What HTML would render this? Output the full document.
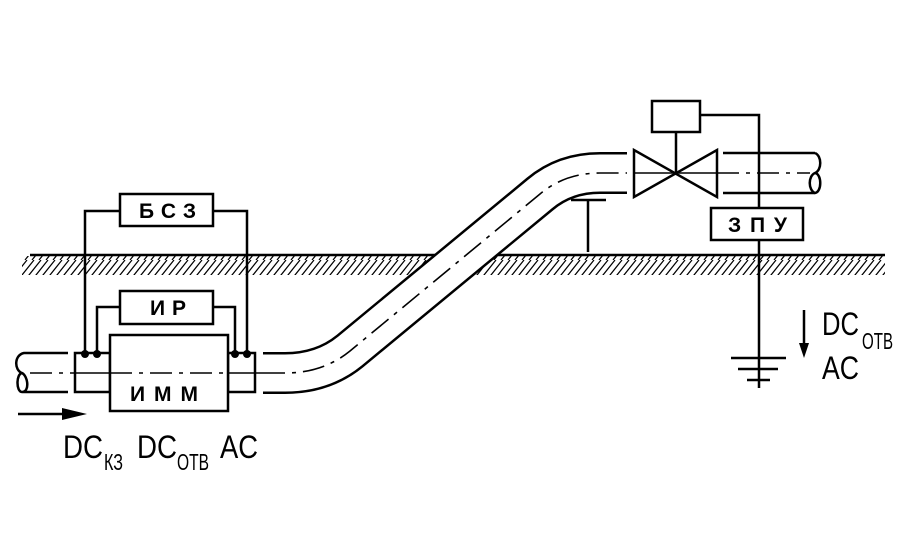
<!DOCTYPE html>
<html><head><meta charset="utf-8"><style>
html,body{margin:0;padding:0;background:#fff}
svg{display:block}
.lb{font-family:"Liberation Sans",sans-serif;font-weight:bold;font-size:21px}
.dc{font-family:"Liberation Sans",sans-serif;font-size:32px}
.sub{font-family:"Liberation Sans",sans-serif;font-size:23px}
</style></head><body>
<svg width="918" height="550" viewBox="0 0 918 550" xmlns="http://www.w3.org/2000/svg">
<defs>
<pattern id="h" width="7" height="20" patternUnits="userSpaceOnUse">
<line x1="-3" y1="20" x2="13" y2="0" stroke="#000" stroke-width="1.2"/>
<line x1="4" y1="20" x2="20" y2="0" stroke="#000" stroke-width="1.2"/>
<line x1="-10" y1="20" x2="6" y2="0" stroke="#000" stroke-width="1.2"/>
</pattern>
</defs>
<g fill="none" stroke="#000" stroke-width="2.5">
<rect x="22" y="256" width="863" height="19" fill="url(#h)" stroke="none"/>
<line x1="30" y1="255" x2="885" y2="255"/>
<path d="M263 373 L285 373 Q323 373 350 351 L540 194 Q565 173 600 173 L627 173" stroke="#000" stroke-width="42"/>
<path d="M261 373 L285 373 Q323 373 350 351 L540 194 Q565 173 600 173 L629 173" stroke="#fff" stroke-width="37"/>
<path d="M263 373 L285 373 Q323 373 350 351 L540 194 Q565 173 600 173 L627 173" stroke-width="1.6" stroke-dasharray="22 7 4 7"/>
<path d="M68 353 L24 353 C14 355 14 370 22 373 C28 376 30 392 22 392 C16 392 16 374 22 373 M22 392 L68 392"/>
<line x1="30" y1="373" x2="75" y2="373" stroke-width="1.6" stroke-dasharray="22 7 4 7"/>
<rect x="75" y="353" width="35" height="39"/>
<rect x="228" y="353" width="27" height="39"/>
<line x1="75" y1="373" x2="110" y2="373" stroke-width="1.6"/>
<line x1="228" y1="373" x2="263" y2="373" stroke-width="1.6"/>
<rect x="110" y="335" width="118" height="76" fill="#fff"/>
<line x1="110" y1="373" x2="228" y2="373" stroke-width="1.6" stroke-dasharray="22 7 4 7"/>
<rect x="120" y="194" width="93" height="32"/>
<polyline points="120,211 85,211 85,354"/>
<polyline points="213,211 247,211 247,354"/>
<rect x="120" y="291" width="93" height="33"/>
<polyline points="120,307 97,307 97,354"/>
<polyline points="213,307 235,307 235,354"/>
<line x1="18" y1="414" x2="75" y2="414"/>
<line x1="723" y1="153" x2="815" y2="153"/>
<line x1="723" y1="193" x2="815" y2="193"/>
<path d="M815 153 C822 156 822 170 815 173 C808 176 808 190 815 193 C822 192 822 174 815 173"/>
<line x1="717" y1="173" x2="810" y2="173" stroke-width="1.6" stroke-dasharray="22 7 4 7"/>
<polygon points="634,150 634,197 717,150 717,197" fill="#fff"/>
<line x1="634" y1="173" x2="717" y2="173" stroke-width="1.6"/>
<rect x="652" y="101" width="48" height="31"/>
<line x1="676" y1="132" x2="676" y2="173"/>
<polyline points="700,115 759,115 759,388"/>
<rect x="711" y="208" width="92" height="32" fill="#fff"/>
<line x1="571" y1="200" x2="606" y2="200"/>
<line x1="588" y1="200" x2="588" y2="252"/>
<line x1="731" y1="358" x2="786" y2="358"/>
<line x1="738" y1="369" x2="778" y2="369"/>
<line x1="747" y1="380" x2="770" y2="380"/>
<line x1="804" y1="310" x2="804" y2="345"/>
</g>
<polygon points="62,408 87,414 62,420" fill="#000"/>
<polygon points="799,343 809,343 804,358" fill="#000"/>
<g fill="#000">
<circle cx="85" cy="354" r="4"/><circle cx="97" cy="354" r="4"/>
<circle cx="235" cy="354" r="4"/><circle cx="247" cy="354" r="4"/>
</g>
<text class="lb" x="139" y="218" textLength="57" lengthAdjust="spacing">БСЗ</text>
<text class="lb" x="150" y="315" textLength="36" lengthAdjust="spacing">ИР</text>
<text class="lb" x="130" y="401" textLength="68" lengthAdjust="spacing">ИММ</text>
<text class="lb" x="728" y="232" textLength="59" lengthAdjust="spacing">ЗПУ</text>
<text class="dc" x="63" y="458" textLength="40" lengthAdjust="spacingAndGlyphs">DC</text>
<text class="sub" x="104" y="470" textLength="19" lengthAdjust="spacingAndGlyphs">КЗ</text>
<text class="dc" x="137" y="458" textLength="40" lengthAdjust="spacingAndGlyphs">DC</text>
<text class="sub" x="177" y="470" textLength="32" lengthAdjust="spacingAndGlyphs">ОТВ</text>
<text class="dc" x="220" y="458" textLength="38" lengthAdjust="spacingAndGlyphs">AC</text>
<text class="dc" x="822" y="335" textLength="37" lengthAdjust="spacingAndGlyphs">DC</text>
<text class="sub" x="862" y="349" textLength="31" lengthAdjust="spacingAndGlyphs">ОТВ</text>
<text class="dc" x="822" y="379" textLength="37" lengthAdjust="spacingAndGlyphs">AC</text>
</svg>
</body></html>
